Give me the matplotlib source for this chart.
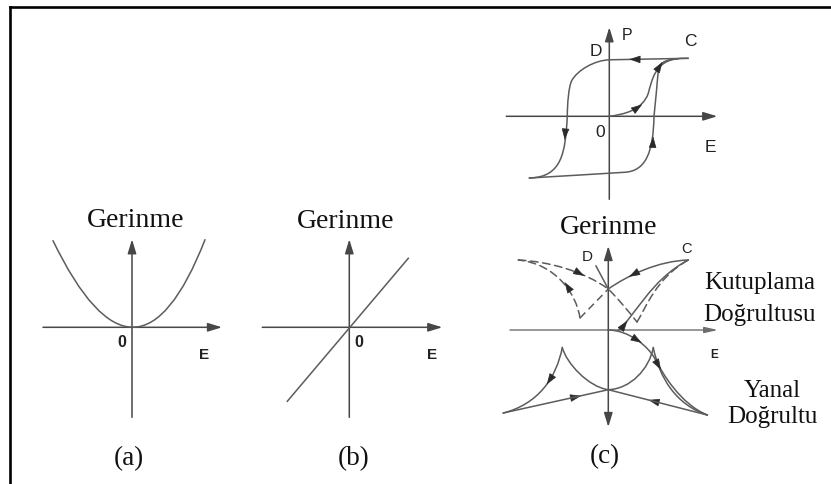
import numpy as np
import matplotlib
matplotlib.use("Agg")
import matplotlib.pyplot as plt
from matplotlib.path import Path
from matplotlib.patches import PathPatch, FancyArrowPatch, ArrowStyle
from matplotlib.lines import Line2D

# ---------------------------------------------------------------- data
# (a) quadratic electrostriction: quadratic Bezier control points (E, strain)
a_curve = [(-7.9, 8.66), (0.5, -8.7), (7.3, 8.76)]
a_E_axis = (-8.9, 9.0)
a_S_axis = (-9.0, 8.8)

# (b) linear piezoelectric strain: end points (E, strain)
b_E = [-6.2, 5.9]
b_S = [-7.4, 6.9]
b_E_axis = (-8.7, 9.3)
b_S_axis = (-9.0, 8.8)

# (c, top) P-E hysteresis loop, cubic Bezier chains (E, P)
loop_upper = [(7.9, 5.8), (5.3, 5.75), (2.6, 5.7), (0.0, 5.65),
              (-1.5, 5.6), (-3.2, 4.6), (-3.76, 3.56),
              (-4.06, 3.0), (-4.2, 1.2), (-4.2, 0.0),
              (-4.4, -3.6), (-4.7, -6.1), (-8.0, -6.17)]
loop_lower = [(-8.0, -6.17), (-4.8, -5.98), (-1.7, -5.8), (1.5, -5.6),
              (3.7, -5.5), (4.4, -3.5), (4.47, 0.0),
              (4.6, 1.5), (4.8, 3.2), (4.9, 4.6),
              (5.05, 5.5), (5.8, 5.8), (7.9, 5.8)]
loop_virgin = [(0.0, 0.0), (1.5, 0.2), (3.3, 0.6), (3.9, 2.3),
               (4.25, 3.6), (4.6, 5.6), (6.9, 5.75)]
loop_heads = [((2.4, 5.7), (-1, 0.02)), ((-4.43, -1.94), (-0.08, -1)),
              ((4.37, -2.44), (0.06, 1)), ((2.95, 0.95), (1, 0.7)),
              ((5.1, 5.1), (0.55, 0.85))]
ct_E_axis = (-10.3, 10.8)
ct_P_axis = (-8.3, 8.9)

# (c, bottom) butterfly strain curves (E, strain)
pol_solid = [(0.0, 4.1), (2.0, 5.5), (5.0, 6.9), (8.0, 7.0)]
pol_D = [(-1.23, 6.4), (0.0, 4.1)]
pol_rise = [(1.0, 0.0), (2.7, 1.4), (4.2, 5.0), (8.0, 7.0)]
pol_dash_a = [(-9.0, 7.0), (-6.0, 6.85), (-2.5, 5.9), (0.0, 4.1),
              (1.0, 3.1), (2.0, 1.9), (2.87, 0.8)]
pol_dash_b = [(-2.83, 1.2), (-3.2, 3.6), (-5.2, 6.6), (-9.0, 7.0)]
pol_dash_c = [(-2.83, 1.2), (0.0, 4.1)]
pol_dash_r = [(2.87, 0.8), (3.8, 2.3), (4.8, 5.2), (8.0, 7.0)]
pol_heads = [((2.42, 5.51), (-1, -0.55)), ((-2.75, 5.6), (1, -0.55)),
             ((-4.15, 4.45), (-0.55, 0.85)), ((1.67, 0.6), (0.6, 0.8))]

lat_lobe_l = [(-4.6, -1.75), (-5.2, -4.8), (-7.0, -7.4), (-10.5, -8.3)]
lat_lobe_r = [(4.5, -1.75), (5.1, -4.8), (6.8, -7.5), (9.9, -8.5)]
lat_virgin = [(0.0, 0.0), (2.0, 0.0), (4.0, -1.6), (4.67, -2.9),
              (5.4, -4.3), (7.2, -7.4), (9.9, -8.5)]
lat_u_l = [(-4.6, -1.75), (-4.2, -3.3), (-2.0, -5.7), (0.0, -5.97)]
lat_u_r = [(0.0, -5.97), (2.2, -5.9), (4.1, -3.9), (4.5, -1.75)]
lat_line_l = [(-10.5, -8.3), (0.0, -5.97)]
lat_line_r = [(9.9, -8.5), (0.0, -5.97)]
lat_heads = [((-5.93, -5.11), (-0.55, -0.84)), ((3.0, -1.07), (1, -0.6)),
             ((5.07, -3.63), (0.5, -0.87)), ((-3.1, -6.66), (1, 0.222)),
             ((4.4, -7.09), (-1, 0.2556))]
cb_E_axis = (-9.83, 10.97)
cb_S_axis = (-9.7, 8.4)

# ---------------------------------------------------------------- style
W, H = 831, 485
UNIT = 10.0
CURVE = "#5c5c5c"
AXIS = "#474747"
HEAD = "#2a2a2a"
SERIF = "Liberation Serif"
SANS = "Liberation Sans"

fig = plt.figure(figsize=(W / 100, H / 100), dpi=100)
fig.patch.set_facecolor("white")


def make_panel(origin, half=(12, 14)):
    ox, oy = origin
    hx, hy = half
    ax = fig.add_axes([(ox - UNIT * hx) / W, (H - oy - UNIT * hy) / H,
                       2 * UNIT * hx / W, 2 * UNIT * hy / H])
    ax.set_xlim(-hx, hx)
    ax.set_ylim(-hy, hy)
    ax.set_axis_off()
    ax.patch.set_alpha(0)
    return ax


def bezier(ax, pts, order=4, **kw):
    code = Path.CURVE4 if order == 4 else Path.CURVE3
    codes = [Path.MOVETO] + [code] * (len(pts) - 1)
    kw.setdefault("color", CURVE)
    kw.setdefault("lw", 1.1)
    ax.add_patch(PathPatch(Path(pts, codes), fill=False, clip_on=False,
                           capstyle="round", **kw))


def segment(ax, pts, **kw):
    xs, ys = zip(*pts)
    kw.setdefault("color", CURVE)
    kw.setdefault("lw", 1.1)
    ax.plot(xs, ys, clip_on=False, **kw)


def head(ax, pos, d, ahead=0.4):
    dx, dy = d
    n = np.hypot(dx, dy)
    dx, dy = dx / n, dy / n
    tip = (pos[0] + ahead * dx, pos[1] + ahead * dy)
    tail = (tip[0] - 0.05 * dx, tip[1] - 0.05 * dy)
    ax.add_patch(FancyArrowPatch(
        tail, tip, arrowstyle=ArrowStyle("-|>", head_length=0.7, head_width=0.24),
        mutation_scale=10, color=HEAD, lw=0.5, shrinkA=0, shrinkB=0,
        clip_on=False))


def axis_arrow(ax, p0, p1, both=False, color=AXIS, lw=1.1, hw=0.26, hl=0.85):
    style = "<|-|>" if both else "-|>"
    ax.add_patch(FancyArrowPatch(
        p0, p1, arrowstyle=ArrowStyle(style, head_length=hl, head_width=hw),
        mutation_scale=10, color=color, lw=lw, shrinkA=0, shrinkB=0,
        clip_on=False))


def serif(ax, x, y, s, size, ha="center"):
    ax.text(x, y, s, ha=ha, va="baseline", fontsize=size, family=SERIF,
            color="#111111")


def sans(ax, x, y, s, size, bold=False):
    ax.text(x, y, s, ha="center", va="baseline", fontsize=size, family=SANS,
            fontweight="bold" if bold else "normal", color="#222222")


# ---------------------------------------------------------------- (a)
ax = make_panel((132.0, 328.3))
axis_arrow(ax, (a_E_axis[0], 0), (a_E_axis[1], 0))
axis_arrow(ax, (0, a_S_axis[0]), (0, a_S_axis[1]))
bezier(ax, a_curve, order=3)
serif(ax, 0.4, 10.1, "Gerinme", 20)
sans(ax, -1.03, -1.83, "0", 11.5, bold=True)
sans(ax, 7.2, -3.1, "E", 11, bold=True)
serif(ax, -0.3, -13.67, "(a)", 19.5)

# ---------------------------------------------------------------- (b)
ax = make_panel((349.3, 328.3))
axis_arrow(ax, (b_E_axis[0], 0), (b_E_axis[1], 0))
axis_arrow(ax, (0, b_S_axis[0]), (0, b_S_axis[1]))
segment(ax, list(zip(b_E, b_S)))
serif(ax, -0.35, 10.0, "Gerinme", 20)
sans(ax, 1.0, -1.83, "0", 11.5, bold=True)
sans(ax, 8.27, -3.1, "E", 11, bold=True)
serif(ax, 0.47, -13.67, "(b)", 19.5)

# ---------------------------------------------------------------- (c) top
ax = make_panel((609.3, 117.3))
axis_arrow(ax, (ct_E_axis[0], 0), (ct_E_axis[1], 0))
axis_arrow(ax, (0, ct_P_axis[0]), (0, ct_P_axis[1]))
bezier(ax, loop_upper)
bezier(ax, loop_lower)
bezier(ax, loop_virgin)
for pos, d in loop_heads:
    head(ax, pos, d)
sans(ax, 1.74, 7.73, "P", 11.5)
sans(ax, -1.35, 6.13, "D", 12.5)
sans(ax, 8.15, 7.16, "C", 12.5)
sans(ax, -0.93, -1.94, "0", 12.5)
sans(ax, 10.07, -3.44, "E", 12.5)

# ---------------------------------------------------------------- (c) bottom
ax = make_panel((608.3, 331.0))
axis_arrow(ax, (cb_E_axis[0], 0), (cb_E_axis[1], 0), color="#6e6e6e",
           lw=1.0, hw=0.18, hl=0.8)
axis_arrow(ax, (0, cb_S_axis[0]), (0, cb_S_axis[1]), both=True)

DASH = (0, (5, 3))
bezier(ax, pol_solid)
segment(ax, pol_D)
bezier(ax, pol_rise)
bezier(ax, pol_dash_a, linestyle=DASH)
bezier(ax, pol_dash_b, linestyle=DASH)
segment(ax, pol_dash_c, linestyle=DASH)
bezier(ax, pol_dash_r, linestyle=DASH)
for pos, d in pol_heads:
    head(ax, pos, d)

bezier(ax, lat_lobe_l)
bezier(ax, lat_lobe_r)
bezier(ax, lat_virgin)
bezier(ax, lat_u_l)
bezier(ax, lat_u_r)
segment(ax, lat_line_l)
segment(ax, lat_line_r)
for pos, d in lat_heads:
    head(ax, pos, d)

serif(ax, 0.0, 9.67, "Gerinme", 20)
sans(ax, -2.08, 7.0, "D", 11)
sans(ax, 7.84, 7.77, "C", 10.5)
sans(ax, 10.54, -2.73, "E", 8.5, bold=True)
serif(ax, 15.1, 4.17, "Kutuplama", 18)
serif(ax, 15.1, 1.03, "Doğrultusu", 18)
serif(ax, 16.37, -6.57, "Yanal", 18)
serif(ax, 16.37, -9.17, "Doğrultu", 18)
serif(ax, -0.33, -13.2, "(c)", 19.5)

# ---------------------------------------------------------------- frame
fig.add_artist(Line2D([10 / W, 1.0], [1 - 8 / H, 1 - 8 / H],
                      transform=fig.transFigure, color="black", lw=1.9,
                      solid_capstyle="projecting"))
fig.add_artist(Line2D([10 / W, 10 / W], [0.0, 1 - 8 / H],
                      transform=fig.transFigure, color="black", lw=1.9,
                      solid_capstyle="projecting"))

fig.savefig("out.png", dpi=100)
